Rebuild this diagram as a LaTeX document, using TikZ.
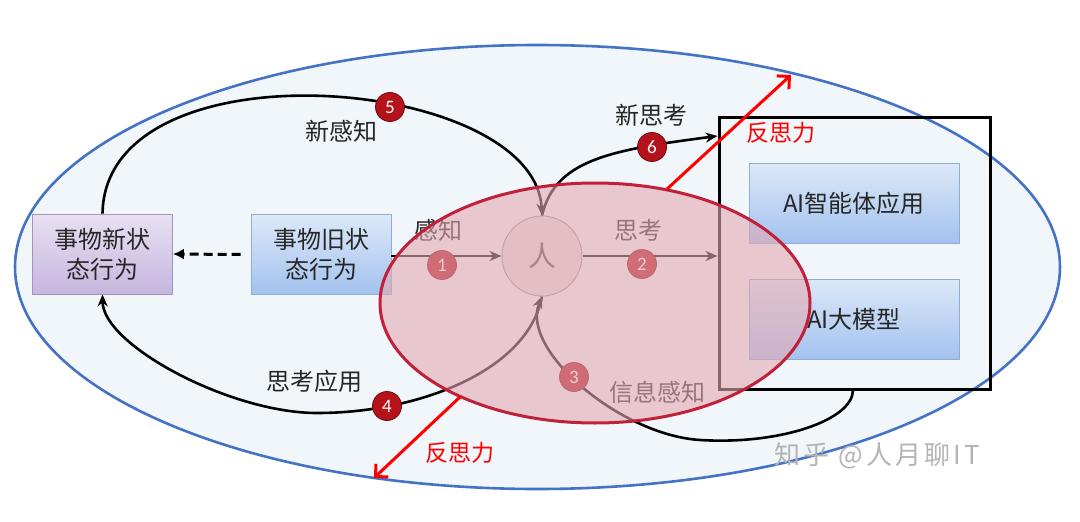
\documentclass[tikz,border=0pt]{standalone}
\usepackage{fontspec}
\newfontfamily\cjk{Noto Sans CJK SC}
\newfontfamily\cjkwm[LetterSpace=12]{Noto Sans CJK SC}
\newfontfamily\numf{Carlito}
\usetikzlibrary{arrows.meta,calc}
\definecolor{bgblue}{HTML}{F1F6FA}
\definecolor{ringblue}{HTML}{4472C4}
\definecolor{boxtop}{HTML}{DCE8F8}
\definecolor{boxbot}{HTML}{A3C2EF}
\definecolor{boxline}{HTML}{8FADD0}
\definecolor{lavtop}{HTML}{E8E0F2}
\definecolor{lavbot}{HTML}{C6B6DF}
\definecolor{lavline}{HTML}{A393C4}
\definecolor{badgered}{HTML}{B5121B}
\definecolor{badgeline}{HTML}{6E0A0E}
\definecolor{pinkfill}{RGB}{229,169,179}
\definecolor{ringred}{HTML}{C0203A}
\definecolor{txt}{HTML}{262626}
\definecolor{wmgray}{RGB}{180,180,180}
\begin{document}
\begin{tikzpicture}[x=1pt,y=-1pt,
  statebox/.style={draw=boxline, line width=0.8pt, top color=boxtop, bottom color=boxbot,
    minimum width=140pt, minimum height=80pt, align=center, inner sep=0pt,
    font=\cjk\fontsize{24}{30}\selectfont, text=txt},
  lavbox/.style={statebox, draw=lavline, top color=lavtop, bottom color=lavbot},
  lbl/.style={font=\cjk\fontsize{24}{30}\selectfont, text=txt, inner sep=0pt},
  redlbl/.style={font=\cjk\fontsize{23}{28}\selectfont, text=red, inner sep=0pt},
  badge/.style={circle, minimum size=29pt, inner sep=0pt, fill=badgered, draw=badgeline,
    line width=0.8pt, text=white, font=\numf\fontsize{19}{19}\selectfont},
  blk/.style={draw=black, line width=2.6pt, -{Stealth[length=12pt,width=10pt]}},
  redarr/.style={draw=red, line width=3pt, -{Straight Barb[length=9pt,width=18pt]}},
]
\useasboundingbox (0,0) rectangle (1080,522);
\fill[white] (0,0) rectangle (1080,522);
% outer blue ellipse
\fill[bgblue] (537.5,267) ellipse [x radius=522.5, y radius=222];
\draw[ringblue, line width=2.6pt] (537.5,267) ellipse [x radius=522.5, y radius=222];

% nodes
\node[lavbox] (newbox) at (102.5,254) {事物新状\\态行为};
\node[statebox] (oldbox) at (321,254.5) {事物旧状\\态行为};
\node[draw=black, line width=3pt, minimum width=271pt, minimum height=272pt, inner sep=0pt] (frame) at (854.5,253) {};
\node[statebox, minimum width=210pt] (agent) at (854,203) {AI智能体应用};
\node[statebox, minimum width=210pt] (llm) at (854,319) {AI大模型};
\node[circle, draw=gray!80, line width=1pt, fill=black!12, minimum size=80pt, inner sep=0pt,
  font=\cjk\fontsize{28}{28}\selectfont, text=black!70] (ren) at (542,256) {人};

\coordinate (c6e) at (717.5,136);
\coordinate (c3s) at (853,390);

% connectors
\draw[draw=black, line width=3pt, dash pattern=on 9pt off 5pt, -{Latex[length=11pt,width=11pt]}]
  ([xshift=-10pt]oldbox.west) -- (newbox.east);
\draw[blk] (oldbox.east |- ren.west) -- (ren.west);
\draw[blk] (ren.east) -- (ren.east -| frame.west);
\draw[blk] (newbox.north) .. controls (105,40) and (535,75) .. (ren.north);
\draw[blk] (ren.north) .. controls (555,160) and (610,150) .. (c6e);
\draw[blk] (ren.south) .. controls (528,370) and (420,413) .. (317,413)
  .. controls (230,413) and (103,345) .. (newbox.south);
\draw[blk] (c3s) .. controls (853,420) and (780,445) .. (700,440)
  .. controls (620,435) and (520,350) .. (ren.south);

% labels
\node[lbl] (lganzhi) at (438,230) {感知};
\node[lbl] (lsikao) at (638,230) {思考};
\node[lbl] (lxgz) at (341,131) {新感知};
\node[lbl] (lxsk) at (651,115) {新思考};
\node[lbl] (lskyy) at (314,381) {思考应用};
\node[lbl] (lxxgz) at (657,392) {信息感知};

% badges
\node[badge] (b1) at (442,265) {1};
\node[badge] (b2) at (642,264) {2};
\node[badge] (b3) at (574,377) {3};
\node[badge] (b4) at (387,406) {4};
\node[badge] (b5) at (390,107) {5};
\node[badge] (b6) at (652,147) {6};

% red ellipse overlay
\fill[pinkfill, fill opacity=0.6] (595,303) ellipse [x radius=215, y radius=120];
\draw[ringred, line width=3pt] (595,303) ellipse [x radius=215, y radius=120];

% red arrows
\coordinate (r1s) at (667,189);
\coordinate (r1e) at (791,75);
\coordinate (r2s) at (460,397);
\coordinate (r2e) at (374,478);
\draw[redarr] (r1s) -- (r1e);
\draw[redarr] (r2s) -- (r2e);
\node[redlbl] (rl1) at (781,133) {反思力};
\node[redlbl] (rl2) at (460,453) {反思力};

% watermark
\node[font=\cjkwm\fontsize{26}{26}\selectfont, text=wmgray, inner sep=0pt] (wm) at (877,456) {知乎 @人月聊IT};
\end{tikzpicture}
\end{document}
